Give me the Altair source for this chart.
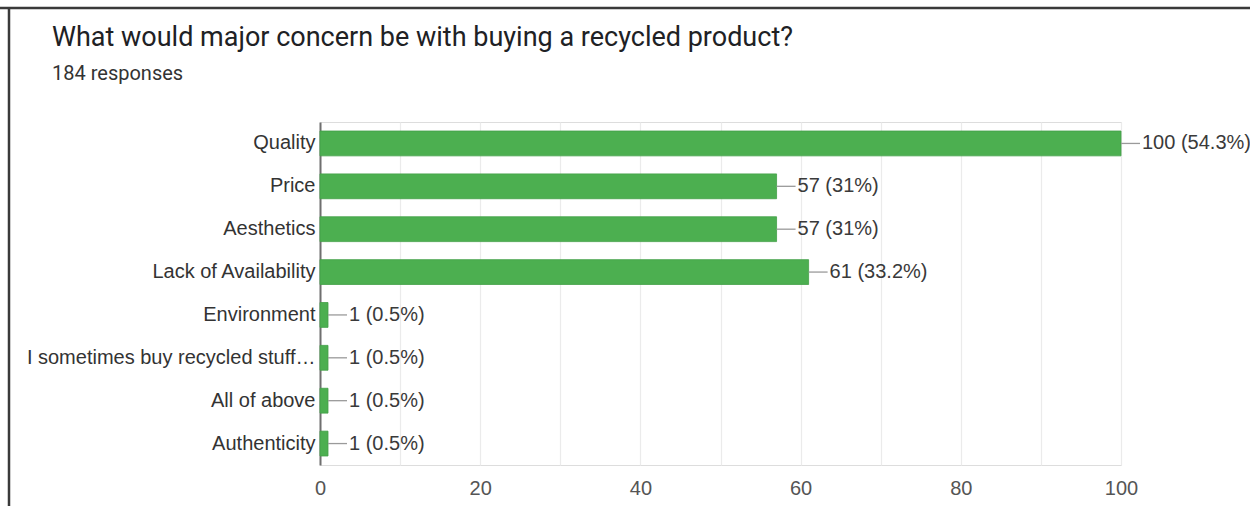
import altair as alt
import pandas as pd

title_text = "What would major concern be with buying a recycled product?"
subtitle_text = "184 responses"
categories = ["Quality", "Price", "Aesthetics", "Lack of Availability", "Environment",
              "I sometimes buy recycled stuff…", "All of above", "Authenticity"]
counts = [100, 57, 57, 61, 1, 1, 1, 1]
value_labels = ["100 (54.3%)", "57 (31%)", "57 (31%)", "61 (33.2%)", "1 (0.5%)",
                "1 (0.5%)", "1 (0.5%)", "1 (0.5%)"]
x_ticks = [0, 10, 20, 30, 40, 50, 60, 70, 80, 90, 100]

df = pd.DataFrame({"category": categories, "count": counts, "label": value_labels})

LABEL_FONT = "Liberation Sans"

y_enc = alt.Y("category:N", sort=categories,
              scale=alt.Scale(paddingInner=0.42, paddingOuter=0.21),
              axis=alt.Axis(title=None, ticks=False, labelPadding=5, labelFontSize=20,
                            labelFont=LABEL_FONT, labelColor="#333333", domainColor="#6f6f6f",
                            domainWidth=2, grid=False, labelLimit=400))
x_enc = alt.X("count:Q", scale=alt.Scale(domain=[0, 100], nice=False),
              axis=alt.Axis(title=None, values=x_ticks, ticks=False, domain=False,
                            labelExpr="datum.value % 20 == 0 ? datum.label : ''",
                            labelFontSize=20, labelFont=LABEL_FONT, labelColor="#555555",
                            labelPadding=13, labelFlush=False,
                            grid=True, gridColor="#ebebeb", gridWidth=1.2))

bars = alt.Chart(df).mark_bar(color="#4caf50", stroke="#43a047", strokeWidth=0.8).encode(
    x=x_enc, y=y_enc)

connectors = alt.Chart(df).mark_rule(color="#9a9a9a", strokeWidth=1.3, x2Offset=19).encode(
    x=alt.X("count:Q"), x2=alt.X2("count"), y=alt.Y("category:N", sort=categories))

texts = alt.Chart(df).mark_text(align="left", baseline="middle", dx=21, fontSize=20,
                                font=LABEL_FONT, color="#3a3a3a").encode(
    x=alt.X("count:Q"), y=alt.Y("category:N", sort=categories), text="label:N")

head_df = pd.DataFrame({"title": [title_text], "subtitle": [subtitle_text]})
title_mark = alt.Chart(head_df).mark_text(
    align="left", baseline="alphabetic", font="Roboto", fontSize=27, color="#202124").encode(
    x=alt.value(-268), y=alt.value(-76), text="title:N")
subtitle_mark = alt.Chart(head_df).mark_text(
    align="left", baseline="alphabetic", font="Roboto", fontSize=20, color="#333333").encode(
    x=alt.value(-268), y=alt.value(-42.5), text="subtitle:N")

frame_df = pd.DataFrame({"k": [0]})
top_border = alt.Chart(frame_df).mark_rule(color="#3a3a3a", strokeWidth=2.5).encode(
    x=alt.value(-320), x2=alt.value(940), y=alt.value(-114))
left_border = alt.Chart(frame_df).mark_rule(color="#3a3a3a", strokeWidth=2.5).encode(
    x=alt.value(-311), y=alt.value(-115), y2=alt.value(400))

chart = alt.layer(bars, connectors, texts, title_mark, subtitle_mark,
                  top_border, left_border).properties(
    width=801, height=343,
    padding={"left": 320, "top": 122, "right": 129, "bottom": 41},
    autosize=alt.AutoSizeParams(type="none"),
).configure_view(stroke="#e6e6e6", strokeWidth=1.2).configure(background="white")

chart.save("out.html", embed_options={"renderer": "svg", "actions": False})
